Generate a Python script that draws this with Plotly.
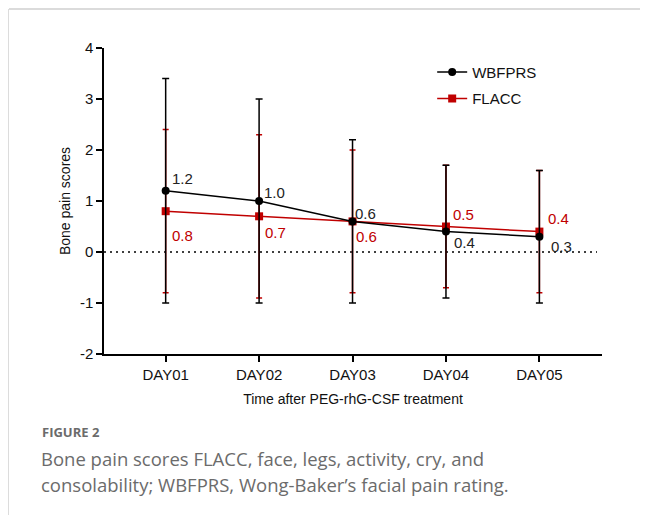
import plotly.graph_objects as go

categories = ["DAY01", "DAY02", "DAY03", "DAY04", "DAY05"]
x_pos = [1, 2, 3, 4, 5]

wbfprs_mean = [1.2, 1.0, 0.6, 0.4, 0.3]
wbfprs_upper = [3.4, 3.0, 2.2, 1.7, 1.6]
wbfprs_lower = [-1.0, -1.0, -1.0, -0.9, -1.0]

flacc_mean = [0.8, 0.7, 0.6, 0.5, 0.4]
flacc_upper = [2.4, 2.3, 2.0, 1.7, 1.6]
flacc_lower = [-0.8, -0.9, -0.8, -0.7, -0.8]

y_ticks = [-2, -1, 0, 1, 2, 3, 4]
y_tick_labels = ["-2", "-1", "0", "1", "2", "3", "4"]

# label offsets (pixels) for the value annotations
wb_shift = [(17, 12), (15, 9), (13, 8), (19, -11), (22, -10)]
fl_shift = [(17, -24), (16, -16), (14, -15), (18, 12), (19, 13)]

BLACK = "#000000"
RED = "#c00000"
FONT = "Liberation Sans, Arial, sans-serif"

fig = go.Figure()

fig.add_trace(go.Scatter(
    x=x_pos, y=flacc_mean, name="FLACC", mode="lines+markers",
    line=dict(color=RED, width=1.5),
    marker=dict(symbol="square", size=8, color=RED),
    error_y=dict(type="data", symmetric=False,
                 array=[u - m for u, m in zip(flacc_upper, flacc_mean)],
                 arrayminus=[m - l for m, l in zip(flacc_mean, flacc_lower)],
                 color=RED, thickness=1.5, width=3),
    legendgroup="b", legendrank=2,
))
fig.add_trace(go.Scatter(
    x=x_pos, y=wbfprs_mean, name="WBFPRS", mode="lines+markers",
    line=dict(color=BLACK, width=1.5),
    marker=dict(symbol="circle", size=8, color=BLACK),
    error_y=dict(type="data", symmetric=False,
                 array=[u - m for u, m in zip(wbfprs_upper, wbfprs_mean)],
                 arrayminus=[m - l for m, l in zip(wbfprs_mean, wbfprs_lower)],
                 color=BLACK, thickness=1.5, width=3.5),
    legendgroup="a", legendrank=1,
))

for xv, v, (dx, dy) in zip(x_pos, wbfprs_mean, wb_shift):
    fig.add_annotation(x=xv, y=v, xref="x", yref="y", text=f"{v:.1f}",
                       showarrow=False, xshift=dx, yshift=dy,
                       font=dict(family=FONT, size=15, color="#222222"))
for xv, v, (dx, dy) in zip(x_pos, flacc_mean, fl_shift):
    fig.add_annotation(x=xv, y=v, xref="x", yref="y", text=f"{v:.1f}",
                       showarrow=False, xshift=dx, yshift=dy,
                       font=dict(family=FONT, size=15, color=RED))

# dotted zero line
fig.add_shape(type="line", xref="paper", yref="y", x0=0, x1=0.99, y0=0, y1=0,
              line=dict(color=BLACK, width=1.5, dash="2px,4px"), layer="below")

# card border (top and left)
fig.add_shape(type="line", xref="paper", yref="paper", x0=-0.1908, x1=1.2, y0=1.1275, y1=1.1275,
              line=dict(color="#cfcfcf", width=1.5))
fig.add_shape(type="line", xref="paper", yref="paper", x0=-0.1928, x1=-0.1928, y0=1.1275, y1=-0.6,
              line=dict(color="#cfcfcf", width=1.5))

# caption
fig.add_annotation(xref="paper", yref="paper", x=-0.128, y=-0.255, xanchor="left", yanchor="middle",
                   text="<b>FIGURE 2</b>", showarrow=False,
                   font=dict(family="Open Sans, sans-serif", size=13, color="#6b6b6b"))
fig.add_annotation(xref="paper", yref="paper", x=-0.13, y=-0.343, xanchor="left", yanchor="middle",
                   text="Bone pain scores FLACC, face, legs, activity, cry, and", showarrow=False,
                   font=dict(family="Open Sans, sans-serif", size=18.5, color="#6b6b6b"))
fig.add_annotation(xref="paper", yref="paper", x=-0.13, y=-0.425, xanchor="left", yanchor="middle",
                   text="consolability; WBFPRS, Wong-Baker\u2019s facial pain rating.", showarrow=False,
                   font=dict(family="Open Sans, sans-serif", size=18.5, color="#6b6b6b"))

fig.update_layout(
    width=640, height=507,
    margin=dict(l=96, r=46, t=40, b=161),
    paper_bgcolor="white", plot_bgcolor="white",
    font=dict(family=FONT, size=14, color="#111111"),
    showlegend=True,
    legend=dict(x=0.659, y=0.975, xanchor="left", yanchor="top",
                bgcolor="rgba(0,0,0,0)", font=dict(family=FONT, size=15, color="#111111"),
                tracegroupgap=4, itemwidth=30),
    xaxis=dict(range=[0.34, 5.67], tickvals=x_pos, ticktext=categories,
               showline=True, linecolor=BLACK, linewidth=1.5, ticks="outside",
               ticklen=6, tickwidth=1.5, tickcolor=BLACK, showgrid=False, zeroline=False,
               tickfont=dict(size=15),
               title=dict(text="Time after PEG-rhG-CSF treatment", font=dict(size=14), standoff=12)),
    yaxis=dict(range=[-2, 4], tickvals=y_ticks, ticktext=y_tick_labels,
               showline=True, linecolor=BLACK, linewidth=1.5, ticks="outside",
               ticklen=6, tickwidth=1.5, tickcolor=BLACK, showgrid=False, zeroline=False,
               tickfont=dict(size=15),
               title=dict(text="Bone pain scores", font=dict(size=14), standoff=6)),
)

fig.write_html("out.html")
